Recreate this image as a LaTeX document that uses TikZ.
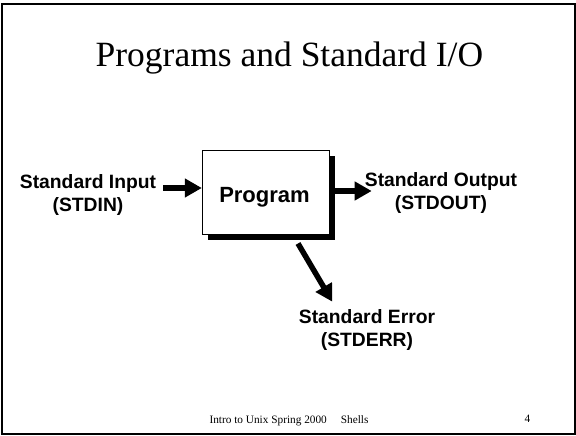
\documentclass[tikz,border=0pt]{standalone}
\usepackage{fontspec}
\setmainfont{Liberation Serif}
\setsansfont{Liberation Sans}
\usetikzlibrary{arrows.meta,shadows}

\tikzset{
  frame/.style={draw=black, line width=2pt},
  slidetitle/.style={font=\fontsize{35.5}{40}\selectfont, inner sep=0pt, anchor=base},
  progbox/.style={draw=black, fill=white, line width=1pt, minimum width=126.7pt,
    minimum height=84pt, inner sep=0pt,
    drop shadow={shadow xshift=5.5pt, shadow yshift=-5.5pt, fill=black, opacity=1}},
  progname/.style={font=\sffamily\bfseries\fontsize{22}{26}\selectfont, inner sep=0pt, anchor=base},
  % two-line labels: the base anchor sits on the second line
  stream/.style={font=\sffamily\bfseries\fontsize{19.3}{23}\selectfont, align=center, inner sep=0pt, anchor=base},
  flow/.style={line width=5.5pt, -{Triangle[length=17pt 0 0,width=18pt 0 0]}},
  footer/.style={font=\fontsize{11.3}{13}\selectfont, inner sep=0pt, anchor=base west}
}

\begin{document}
\begin{tikzpicture}[x=1pt, y=-1pt]
  \useasboundingbox (0,0) rectangle (576,436);
  \fill[white] (0,0) rectangle (576,436);
  \draw[frame] (1.5,4) rectangle (574.5,433.8);

  % title
  \node[slidetitle] (title) at (289.4,66.7) {Programs and Standard I/O};

  % the program box with its drop shadow
  \node[progbox] (prog) at (265.7,192) {};
  \node[progname] (progtxt) at (264.5,202.6) {Program};

  % stream labels
  \node[stream] (stdin)  at (88,211.5)  {Standard Input\\(STDIN)};
  \node[stream] (stdout) at (441,209.7) {Standard Output\\(STDOUT)};
  \node[stream] (stderr) at (367,346.7) {Standard Error\\(STDERR)};

  % arrow end points
  \coordinate (inTail)  at (163.3,188);
  \coordinate (outTail) at (334,191);
  \coordinate (outTip)  at (371.7,191);
  \coordinate (errTail) at (298,243.5);
  \coordinate (errTip)  at (332.3,301.7);

  % data flow
  \draw[flow] (inTail) -- (inTail -| prog.west);
  \draw[flow] (outTail) -- (outTip);
  \draw[flow] (errTail) -- (errTip);

  % footer
  \node[footer] (foot) at (209.3,423) {Intro to Unix Spring 2000\hspace{14pt}Shells};
  \node[footer] (page) at (524.3,422.7) {4};
\end{tikzpicture}
\end{document}
